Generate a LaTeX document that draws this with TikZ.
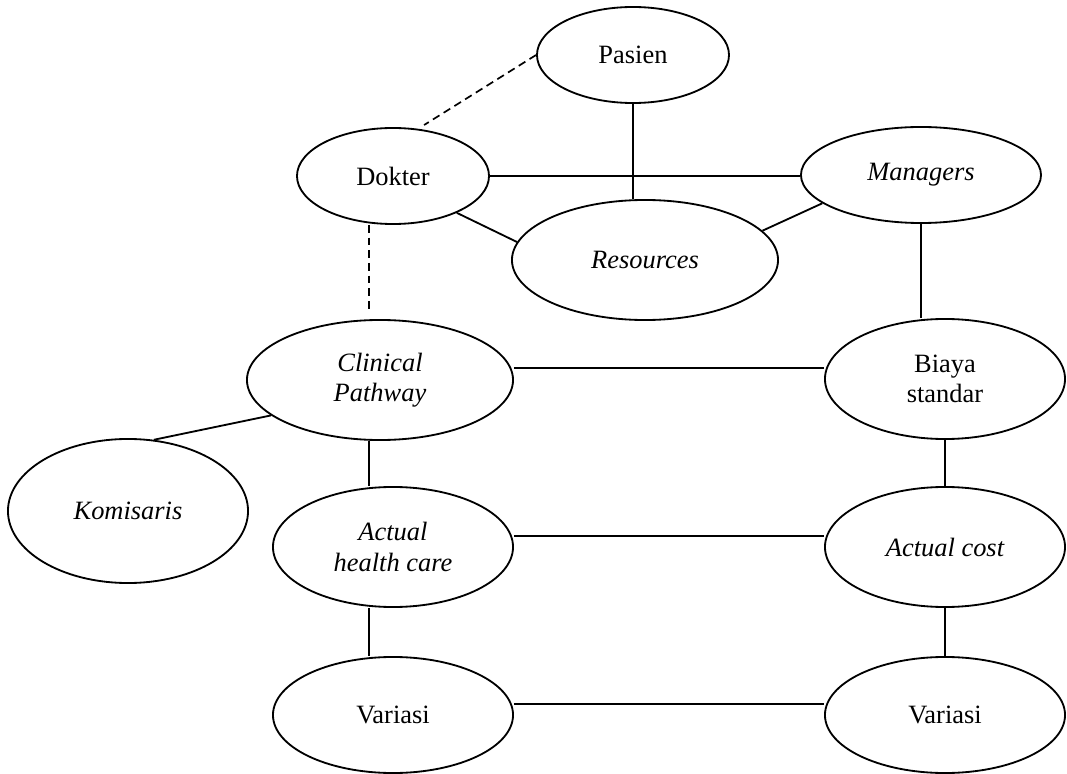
\documentclass[tikz,border=0pt]{standalone}
\usepackage{fontspec}
\setmainfont{Liberation Serif}
\usetikzlibrary{shapes.geometric}

\begin{document}
\begin{tikzpicture}[x=0.025cm, y=-0.025cm,
  ell/.style={draw, ellipse, line width=1.3pt, inner sep=0pt, align=center,
    font=\fontsize{18.8}{21.5}\selectfont},
  link/.style={line width=1.3pt},
  dsh/.style={line width=1.2pt, dash pattern=on 5.5pt off 3.5pt}]
\useasboundingbox (0,0) rectangle (1067,774);
\node[ell, minimum width=4.8cm, minimum height=2.4cm] (pasien) at (633,55) {Pasien};
\node[ell, minimum width=4.8cm, minimum height=2.4cm] (dokter) at (393,176) {Dokter};
\node[ell, minimum width=6cm, minimum height=2.4cm] (managers) at (921,175) {\itshape Managers};
\node[ell, minimum width=6.65cm, minimum height=3cm] (resources) at (645,260) {\itshape Resources};
\node[ell, minimum width=6.65cm, minimum height=3cm] (clinical) at (380,380) {\itshape Clinical\\ \itshape Pathway};
\node[ell, minimum width=6cm, minimum height=3cm] (biaya) at (945,379) {Biaya\\ standar};
\node[ell, minimum width=6cm, minimum height=3.6cm] (komisaris) at (128,511) {\itshape Komisaris};
\node[ell, minimum width=6cm, minimum height=3cm] (acthealth) at (393,547) {\itshape Actual\\ \itshape health care};
\node[ell, minimum width=6cm, minimum height=3cm] (actcost) at (945,547) {\itshape Actual cost};
\node[ell, minimum width=6cm, minimum height=2.9cm] (variasiL) at (393,715) {Variasi};
\node[ell, minimum width=6cm, minimum height=2.9cm] (variasiR) at (945,715) {Variasi};
\coordinate (colL) at (369,0);
\coordinate (rowA) at (0,368);
\coordinate (rowB) at (0,536);
\coordinate (rowC) at (0,704);
\draw[dsh, shorten >=5pt] (pasien.west) -- (dokter.62);
\draw[dsh, shorten >=4pt] (dokter.south -| colL) -- (clinical.north -| colL);
\draw[link] (pasien.south) -- (pasien.south |- resources.north);
\draw[link] (dokter.east) -- (dokter.east -| managers.west);
\draw[link] (dokter.-30) -- (resources.172);
\draw[link] (resources.14) -- (managers.196);
\draw[link] (managers.south) -- (managers.south |- biaya.north);
\draw[link] (clinical.east |- rowA) -- (biaya.west |- rowA);
\draw[link] (clinical.198) -- (komisaris.70);
\draw[link] (clinical.south -| colL) -- (acthealth.north -| colL);
\draw[link] (biaya.south) -- (actcost.north);
\draw[link] (acthealth.east |- rowB) -- (actcost.west |- rowB);
\draw[link] (acthealth.south -| colL) -- (variasiL.north -| colL);
\draw[link] (actcost.south) -- (variasiR.north);
\draw[link] (variasiL.east |- rowC) -- (variasiR.west |- rowC);
\end{tikzpicture}
\end{document}
